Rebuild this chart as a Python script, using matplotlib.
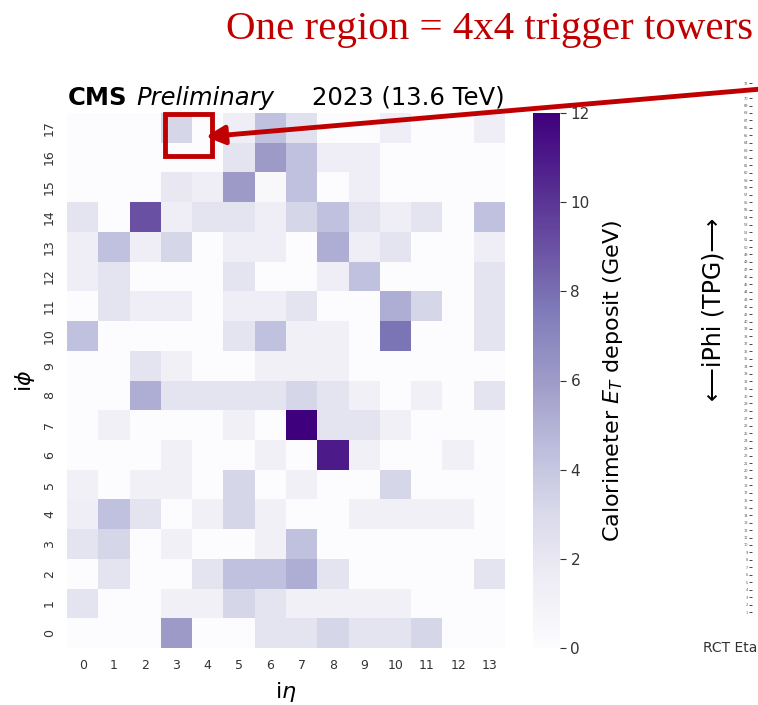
import numpy as np
import matplotlib.pyplot as plt
from matplotlib.patches import Rectangle, FancyArrowPatch

# region energy deposits, rows are i_phi 0..17, columns are i_eta 0..13 (GeV)
i_eta = list(range(14))
i_phi = list(range(18))
et_rows = [
    [0, 0, 0, 6.0, 0, 0, 2.3, 2.3, 3.2, 2.3, 2.3, 3.2, 0, 0],          # 0
    [2.3, 0, 0, 1.2, 1.2, 3.2, 2.3, 1.2, 1.2, 1.2, 1.2, 0, 0, 0],      # 1
    [0, 2.3, 0, 0, 2.3, 4.3, 4.3, 5.2, 2.3, 0, 0, 0, 0, 2.3],          # 2
    [2.3, 3.2, 0, 1.2, 0, 0, 1.2, 4.3, 0, 0, 0, 0, 0, 0],              # 3
    [1.5, 4.3, 2.3, 0, 1.2, 3.2, 1.2, 0, 0, 1.2, 1.2, 1.2, 1.2, 0],    # 4
    [1.2, 0, 1.2, 1.2, 0, 3.2, 0, 1.2, 0, 0, 3.2, 0, 0, 0],            # 5
    [0, 0, 0, 1.2, 0, 0, 1.2, 0, 11.0, 1.2, 0, 0, 1.2, 0],             # 6
    [0, 1.2, 0, 0, 0, 1.2, 0, 12.0, 2.3, 2.3, 1.2, 0, 0, 0],           # 7
    [0, 0, 5.2, 2.3, 2.3, 2.3, 2.3, 3.2, 2.3, 1.2, 0, 1.2, 0, 2.3],    # 8
    [0, 0, 2.3, 1.2, 0, 0, 1.2, 1.2, 1.2, 0, 0, 0, 0, 0],              # 9
    [4.3, 0, 0, 0, 0, 2.3, 4.3, 1.2, 1.2, 0, 7.8, 0, 0, 2.3],          # 10
    [0, 2.3, 1.5, 1.5, 0, 1.5, 1.5, 2.3, 0, 0, 5.2, 3.2, 0, 2.3],      # 11
    [1.5, 2.3, 0, 0, 0, 2.3, 0, 0, 1.5, 4.3, 0, 0, 0, 2.3],            # 12
    [1.5, 4.3, 1.5, 3.2, 0, 1.5, 1.5, 0, 5.2, 1.5, 2.3, 0, 0, 1.5],    # 13
    [2.3, 0, 9.0, 1.5, 2.3, 2.3, 1.5, 3.2, 4.3, 2.3, 1.5, 2.3, 0, 4.3],  # 14
    [0, 0, 0, 2.0, 1.5, 6.0, 0.5, 4.3, 0, 1.5, 0, 0, 0, 0],            # 15
    [0, 0, 0, 0, 0, 2.3, 6.0, 4.3, 1.5, 1.5, 0, 0, 0, 0],              # 16
    [0, 0, 0, 3.2, 0, 1.5, 4.3, 2.5, 0, 0, 1.5, 0, 0, 1.5],            # 17
]
cbar_ticks = [0, 2, 4, 6, 8, 10, 12]
tpg_phi = list(range(72))

et = np.array(et_rows)
W, H = 758, 705
fig = plt.figure(figsize=(W / 100, H / 100), dpi=100)

ax = fig.add_axes([67 / W, 1 - 648 / H, 438 / W, 535 / H])
mesh = ax.pcolormesh(np.arange(15) - 0.5, np.arange(19) - 0.5, et,
                     cmap='Purples', vmin=0, vmax=12)
ax.set_xlim(-0.5, 13.5)
ax.set_ylim(-0.5, 17.5)
ax.set_xticks(i_eta)
ax.set_yticks(i_phi)
ax.set_yticklabels([str(v) for v in i_phi], rotation=90, va='center')
ax.tick_params(length=0, labelsize=9, pad=8, colors='#333333')
for s in ax.spines.values():
    s.set_visible(False)
ax.set_xlabel(r'i$\eta$', fontsize=16, labelpad=6)
ax.set_ylabel(r'i$\phi$', fontsize=16, labelpad=4)

# CMS header above the map
fig.text(68 / W, 1 - 105 / H, 'CMS', fontsize=17.5, fontweight='bold')
fig.text(136 / W, 1 - 105 / H, 'Preliminary', fontsize=17.5, style='italic')
fig.text(505 / W, 1 - 105 / H, '2023 (13.6 TeV)', fontsize=17.5, ha='right')

cax = fig.add_axes([533 / W, 1 - 648 / H, 27 / W, 535 / H])
cb = fig.colorbar(mesh, cax=cax, ticks=cbar_ticks)
cb.outline.set_visible(False)
cb.ax.tick_params(labelsize=11, length=4, colors='#333333')
cb.set_label(r'Calorimeter $E_T$ deposit (GeV)', fontsize=16, labelpad=8)

# highlight one region and point at it
red = '#c00000'
ax.add_patch(Rectangle((2.62, 16.05), 1.5, 1.4, fill=False, ec=red, lw=3.5,
                       clip_on=False, zorder=5))
arrow = FancyArrowPatch((1.02, 1 - 88 / H), (203 / W, 1 - 137 / H),
                        transform=fig.transFigure, arrowstyle='-|>',
                        mutation_scale=28, color=red, lw=3.5)
fig.patches.append(arrow)
fig.text(490 / W, 1 - 30 / H, 'One region = 4x4 trigger towers',
         fontsize=29.5, color=red, family='Liberation Serif',
         ha='center', va='center')

# trigger tower phi axis on the right edge
tax = fig.add_axes([752 / W, 1 - 612 / H, 0.1, 540 / H])
tax.set_ylim(0.5, 72.5)
tax.set_yticks(tpg_phi)
tax.set_yticklabels([str(v + 1) for v in tpg_phi], fontsize=2.5, color='#555555')
tax.tick_params(axis='y', length=2, width=0.5, pad=1)
tax.set_xticks([])
for s in tax.spines.values():
    s.set_visible(False)
fig.text(713 / W, 1 - 309 / H, '\u27f5iPhi (TPG)\u27f6', rotation=90,
         fontsize=17, ha='center', va='center')
fig.text(703 / W, 1 - 648 / H, 'RCT Eta', fontsize=10, color='#333333',
         va='center')

fig.savefig('out.png', dpi=100)
